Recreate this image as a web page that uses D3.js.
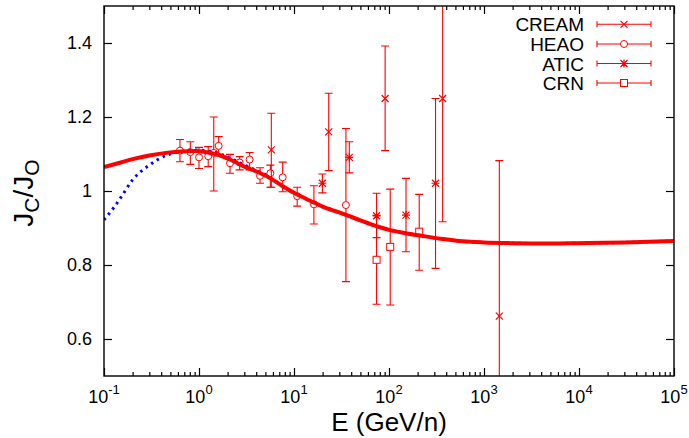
<!DOCTYPE html>
<html><head><meta charset="utf-8">
<script src="https://cdn.jsdelivr.net/npm/d3@7"></script>
<style>
body{margin:0;background:#fff}
svg{display:block}
text{font-family:"Liberation Sans",Arial,sans-serif;fill:#000}
</style>
</head><body>
<svg id="chart" width="689" height="438"></svg>
<script>
// ---------- data ----------
const xDomain = [0.1, 1e5];
const yDomain = [0.5, 1.5];
const xTickValues = [0.1, 1, 10, 100, 1000, 10000, 100000];
const xTickExponents = ["-1", "0", "1", "2", "3", "4", "5"];
const yTickValues = [0.6, 0.8, 1.0, 1.2, 1.4];
const yTickLabels = ["0.6", "0.8", "1", "1.2", "1.4"];

// model curve (solid red)
const modelE = [0.1,0.15,0.2,0.3,0.45,0.65,0.9,1.2,1.6,2.2,3,4,5.5,7.5,10,15,20,30,45,70,100,150,220,350,600,1000,2000,5000,10000,30000,100000];
const modelV = [1.065,1.077,1.086,1.096,1.103,1.107,1.108,1.105,1.098,1.083,1.066,1.053,1.036,1.014,0.995,0.973,0.958,0.942,0.925,0.907,0.895,0.886,0.879,0.871,0.864,0.861,0.859,0.858,0.859,0.861,0.865];
// modulated curve (dotted blue)
const modE = [0.1,0.125,0.15,0.2,0.3,0.45,0.63,0.9,1.2,1.6,2.2,3,4,5.5,7.5,10,15,20,30,45,70,100,150,220,350,600,1000,2000,5000,10000,30000,100000];
const modV = [0.922,0.953,0.982,1.03,1.07,1.096,1.106,1.111,1.109,1.102,1.087,1.07,1.056,1.038,1.014,0.995,0.973,0.958,0.942,0.925,0.907,0.895,0.886,0.879,0.871,0.864,0.861,0.859,0.858,0.859,0.861,0.865];

// data sets
const creamE  = [5.77, 23.2, 91, 367, 1450];
const creamV  = [1.111, 1.16, 1.25, 1.25, 0.662];
const creamLo = [1.01, 1.055, 1.109, 0.917, 0.242];
const creamHi = [1.21, 1.264, 1.392, 1.583, 1.082];

const heaoE  = [0.63, 0.81, 1.0, 1.25, 1.43, 1.61, 2.12, 2.68, 3.41, 4.39, 5.64, 7.6, 10.8, 16.2, 35.2];
const heaoV  = [1.109, 1.105, 1.091, 1.094, 1.103, 1.122, 1.075, 1.077, 1.085, 1.041, 1.048, 1.037, 0.986, 0.964, 0.962];
const heaoLo = [1.079, 1.072, 1.061, 1.066, 1.0, 1.095, 1.048, 1.057, 1.057, 1.021, 1.01, 0.998, 0.959, 0.911, 0.755];
const heaoHi = [1.139, 1.133, 1.118, 1.12, 1.2, 1.147, 1.099, 1.093, 1.104, 1.063, 1.07, 1.078, 1.01, 1.014, 1.169];

const aticE  = [19.9, 38.2, 74, 151, 309];
const aticV  = [1.021, 1.091, 0.933, 0.935, 1.021];
const aticLo = [0.995, 1.049, 0.874, 0.836, 0.791];
const aticHi = [1.046, 1.133, 0.994, 1.034, 1.25];

const crnE  = [74, 103, 208];
const crnV  = [0.814, 0.849, 0.89];
const crnLo = [0.694, 0.692, 0.786];
const crnHi = [0.934, 1.005, 0.991];

const seriesNames   = ["CREAM", "HEAO", "ATIC", "CRN"];
const seriesMarkers = ["cross", "circle", "star", "square"];

// ---------- build ----------
const W = 689, H = 438;
const margin = {left: 104, right: 15, top: 6, bottom: 62};
const x = d3.scaleLog().domain(xDomain).range([margin.left, W - margin.right]);
const y = d3.scaleLinear().domain(yDomain).range([H - margin.bottom, margin.top]);
const red = "#ff0000", blue = "#0000ff";

const svg = d3.select("#chart");

svg.append("defs").append("clipPath").attr("id", "plotclip")
  .append("rect").attr("x", x.range()[0]).attr("y", y.range()[1])
  .attr("width", x.range()[1] - x.range()[0]).attr("height", y.range()[0] - y.range()[1]);

// minor x tick values
const xMinor = [];
for (let d = -1; d < 5; d++) for (let k = 2; k <= 9; k++) xMinor.push(k * Math.pow(10, d));

function styleAxis(g) {
  g.select(".domain").remove();
  g.selectAll(".tick line").attr("stroke", "#000").attr("stroke-width", 1.2);
}
const y0 = y.range()[0], y1 = y.range()[1], x0 = x.range()[0], x1 = x.range()[1];

// bottom axis
svg.append("g").attr("transform", `translate(0,${y0})`)
  .call(d3.axisBottom(x).tickValues(xTickValues).tickSize(-8).tickSizeOuter(0).tickFormat(""))
  .call(styleAxis);
svg.append("g").attr("transform", `translate(0,${y0})`)
  .call(d3.axisBottom(x).tickValues(xMinor).tickSize(-4).tickSizeOuter(0).tickFormat(""))
  .call(styleAxis);
// top axis
svg.append("g").attr("transform", `translate(0,${y1})`)
  .call(d3.axisTop(x).tickValues(xTickValues).tickSize(-8).tickSizeOuter(0).tickFormat(""))
  .call(styleAxis);
svg.append("g").attr("transform", `translate(0,${y1})`)
  .call(d3.axisTop(x).tickValues(xMinor).tickSize(-4).tickSizeOuter(0).tickFormat(""))
  .call(styleAxis);
// left axis
const leftAxis = svg.append("g").attr("transform", `translate(${x0},0)`)
  .call(d3.axisLeft(y).tickValues(yTickValues).tickSize(-8).tickSizeOuter(0).tickPadding(12)
        .tickFormat((d, i) => yTickLabels[i]))
  .call(styleAxis);
leftAxis.attr("font-size", null).attr("font-family", null);
leftAxis.selectAll(".tick text").style("font-size", "18px").attr("fill", "#000")
  .style("font-family", '"Liberation Sans",Arial,sans-serif');
// right axis
svg.append("g").attr("transform", `translate(${x1},0)`)
  .call(d3.axisRight(y).tickValues(yTickValues).tickSize(-8).tickSizeOuter(0).tickFormat(""))
  .call(styleAxis);

// x tick labels with superscripts
const xl = svg.append("g");
xTickValues.forEach((v, i) => {
  const t = xl.append("text").attr("x", x(v)).attr("y", y0 + 27)
    .attr("text-anchor", "middle").style("font-size", "18px");
  t.append("tspan").text("10");
  t.append("tspan").attr("dy", -9).style("font-size", "13px").text(xTickExponents[i]);
});

// axis titles
svg.append("text").attr("x", (x0 + x1) / 2).attr("y", 431)
  .attr("text-anchor", "middle").style("font-size", "26px").text("E (GeV/n)");
const yt = svg.append("text").attr("transform", "translate(33,193) rotate(-90)")
  .attr("text-anchor", "middle").style("font-size", "28px");
yt.append("tspan").text("J");
yt.append("tspan").attr("dy", 6).style("font-size", "21px").text("C");
yt.append("tspan").attr("dy", -6).text("/J");
yt.append("tspan").attr("dy", 6).style("font-size", "21px").text("O");

// curves
const plot = svg.append("g").attr("clip-path", "url(#plotclip)");
const line = d3.line().x(d => x(d[0])).y(d => y(d[1])).curve(d3.curveMonotoneX);
plot.append("path").datum(modE.map((e, i) => [e, modV[i]]))
  .attr("d", line).attr("fill", "none").attr("stroke", blue)
  .attr("stroke-width", 3).attr("stroke-dasharray", "2.5,4.2");
plot.append("path").datum(modelE.map((e, i) => [e, modelV[i]]))
  .attr("d", line).attr("fill", "none").attr("stroke", red).attr("stroke-width", 4);

// markers
const R = 3.5;
function drawMarker(g, type, cx, cy) {
  if (type === "circle") {
    g.append("circle").attr("cx", cx).attr("cy", cy).attr("r", R)
      .attr("fill", "none").attr("stroke", red).attr("stroke-width", 1);
  } else if (type === "square") {
    g.append("rect").attr("x", cx - R).attr("y", cy - R).attr("width", 2 * R).attr("height", 2 * R)
      .attr("fill", "none").attr("stroke", red).attr("stroke-width", 1);
  } else {
    let p = `M${cx - R},${cy - R}L${cx + R},${cy + R}M${cx - R},${cy + R}L${cx + R},${cy - R}`;
    if (type === "star") p += `M${cx - R - 0.5},${cy}L${cx + R + 0.5},${cy}M${cx},${cy - R - 0.5}L${cx},${cy + R + 0.5}`;
    g.append("path").attr("d", p).attr("fill", "none").attr("stroke", red).attr("stroke-width", 1.2);
  }
}

const seriesData = [
  {E: creamE, V: creamV, Lo: creamLo, Hi: creamHi},
  {E: heaoE, V: heaoV, Lo: heaoLo, Hi: heaoHi},
  {E: aticE, V: aticV, Lo: aticLo, Hi: aticHi},
  {E: crnE, V: crnV, Lo: crnLo, Hi: crnHi}
];
const CAP = 4;
seriesData.forEach((s, si) => {
  const type = seriesMarkers[si];
  const g = plot.append("g");
  const open = (type === "circle" || type === "square");
  s.E.forEach((e, i) => {
    const cx = x(e), cy = y(s.V[i]), yl = y(s.Lo[i]), yh = y(s.Hi[i]);
    const gap = open ? R : 0;
    let d = "";
    if (yl > cy + gap) d += `M${cx},${yl}L${cx},${cy + gap}`;
    if (yh < cy - gap) d += `M${cx},${cy - gap}L${cx},${yh}`;
    d += `M${cx - CAP},${yl}L${cx + CAP},${yl}M${cx - CAP},${yh}L${cx + CAP},${yh}`;
    g.append("path").attr("d", d).attr("fill", "none").attr("stroke", red).attr("stroke-width", 1.1);
    drawMarker(g, type, cx, cy);
  });
});

// legend
const leg = svg.append("g");
const legRowY = [24.3, 44, 63.5, 83];
seriesNames.forEach((name, i) => {
  const ry = legRowY[i];
  leg.append("text").attr("x", 584).attr("y", ry + 7).attr("text-anchor", "end")
    .style("font-size", "19px").text(name);
  const lx0 = 597, lx1 = 651, mx = 624;
  const open = (seriesMarkers[i] === "circle" || seriesMarkers[i] === "square");
  const gap = open ? R : 0;
  const d = `M${lx0},${ry}L${mx - gap},${ry}M${mx + gap},${ry}L${lx1},${ry}` +
            `M${lx0},${ry - 3}L${lx0},${ry + 3}M${lx1},${ry - 3}L${lx1},${ry + 3}`;
  leg.append("path").attr("d", d).attr("fill", "none").attr("stroke", red).attr("stroke-width", 1.1);
  drawMarker(leg, seriesMarkers[i], mx, ry);
});

// frame
svg.append("rect").attr("x", x0).attr("y", y1).attr("width", x1 - x0).attr("height", y0 - y1)
  .attr("fill", "none").attr("stroke", "#000").attr("stroke-width", 1.4);
</script>
</body></html>
